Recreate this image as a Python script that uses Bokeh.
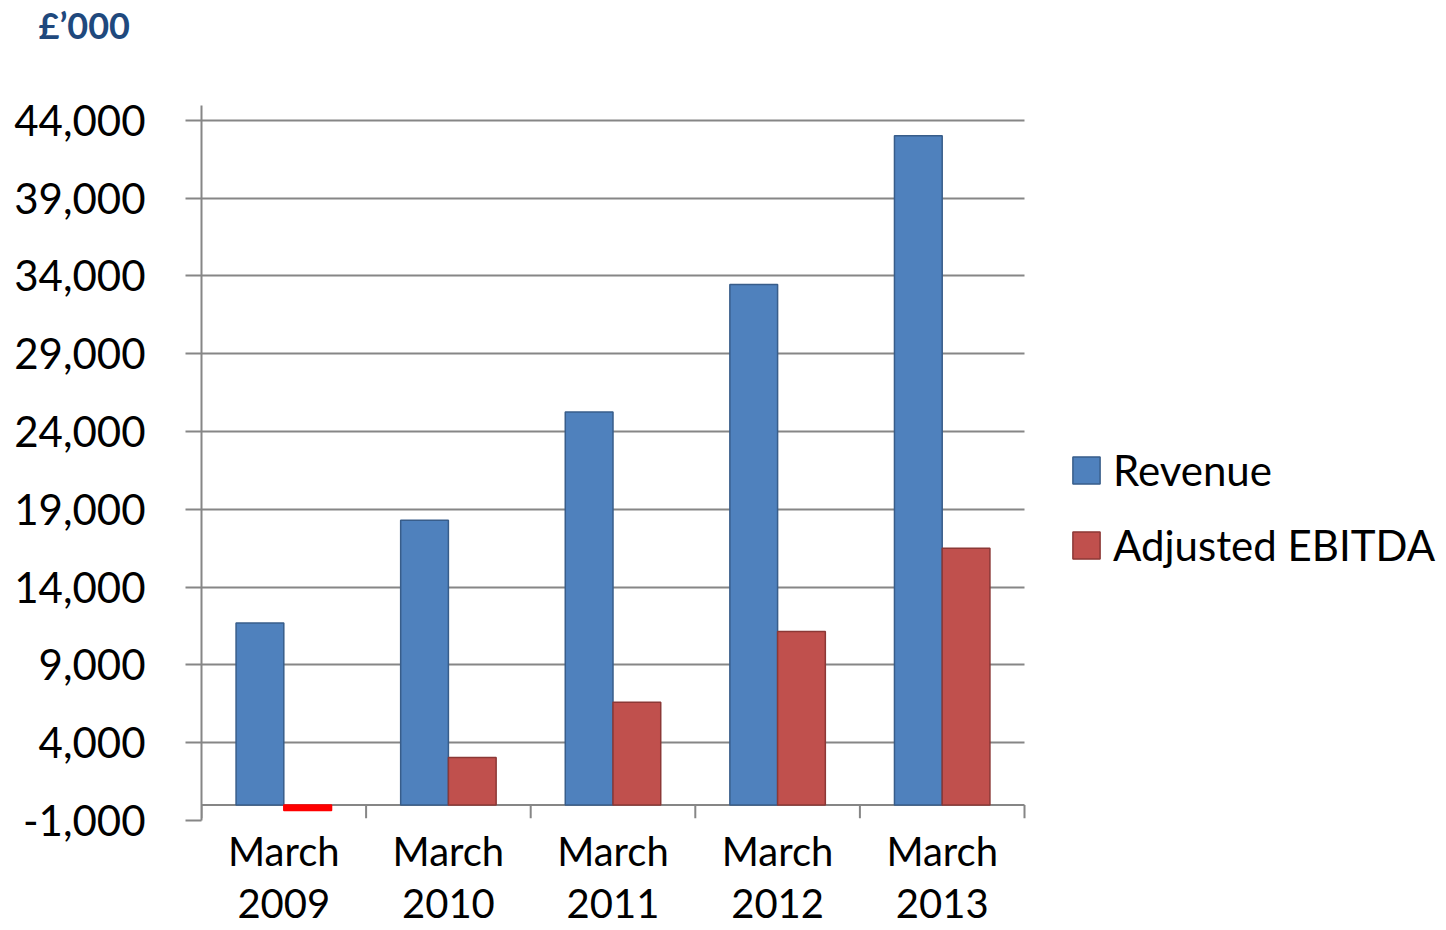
import numpy as np
from bokeh.plotting import figure
from bokeh.models import (ColumnDataSource, Range1d, FixedTicker,
                          NumeralTickFormatter, Legend, LegendItem, Title)
from bokeh.transform import dodge
from bokeh.embed import file_html
from bokeh.resources import INLINE

# Financial year ends (two-line category labels)
periods = ["March\n2009", "March\n2010", "March\n2011", "March\n2012", "March\n2013"]

# Values in £'000
revenue = [11700, 18300, 25250, 33450, 43000]
adjusted_ebitda = [-350, 3050, 6600, 11150, 16500]

# The negative year is highlighted in bright red
ebitda_fill = ["#FF0000", "#C0504D", "#C0504D", "#C0504D", "#C0504D"]
ebitda_line = ["#FF0000", "#8C3836", "#8C3836", "#8C3836", "#8C3836"]

y_ticks = [-1000, 4000, 9000, 14000, 19000, 24000, 29000, 34000, 39000, 44000]

FONT = "Lato"
GRID = "#868686"

n = len(periods)
centers = np.arange(n) + 0.5          # one unit per category
boundaries = np.arange(n + 1)         # category separators

source = ColumnDataSource(data=dict(
    pos=centers,
    revenue=revenue,
    ebitda=adjusted_ebitda,
    ebitda_fill=ebitda_fill,
    ebitda_line=ebitda_line,
))

# Plot area 201..1446 px; the categories use 201..1024 px, the rest holds the legend
x_end = n * (1446 - 201) / (1024 - 201)

p = figure(
    width=1446, height=930,
    x_range=Range1d(0, x_end),
    y_range=Range1d(-1000, 44950),
    output_backend="svg", toolbar_location=None,
    min_border_left=201, min_border_right=0,
    min_border_top=105, min_border_bottom=110,
)
p.title = None
p.outline_line_color = None
p.background_fill_color = "white"
p.border_fill_color = "white"

# Unit caption in the top-left corner (a blank title keeps it clear of the plot)
p.add_layout(Title(text=" ", text_font_size="1px", standoff=56), "above")
p.add_layout(Title(text="£’000", text_font=FONT, text_font_size="36px",
                   text_font_style="bold", text_color="#1F497D",
                   align="left", offset=-163, standoff=0), "above")

# Y axis
p.yaxis.ticker = FixedTicker(ticks=y_ticks)
p.yaxis.formatter = NumeralTickFormatter(format="0,0")
p.yaxis.major_label_text_font = FONT
p.yaxis.major_label_text_font_size = "42px"
p.yaxis.major_label_text_color = "black"
p.yaxis.axis_line_color = GRID
p.yaxis.axis_line_width = 2
p.yaxis.major_tick_line_color = GRID
p.yaxis.major_tick_line_width = 2
p.yaxis.major_tick_out = 16
p.yaxis.major_tick_in = 0
p.yaxis.minor_tick_line_color = None
p.yaxis.major_label_standoff = 40

# X axis: category labels only
p.xaxis.ticker = FixedTicker(ticks=list(centers), minor_ticks=[])
p.xaxis.major_label_overrides = {float(c): lab for c, lab in zip(centers, periods)}
p.xaxis.axis_line_color = None
p.xaxis.major_tick_line_color = None
p.xaxis.minor_tick_line_color = None
p.xaxis.major_tick_out = 0
p.xaxis.major_tick_in = 0
p.xaxis.major_label_text_font = FONT
p.xaxis.major_label_text_font_size = "40px"
p.xaxis.major_label_text_line_height = 1.1
p.xaxis.major_label_text_color = "black"
p.xaxis.major_label_standoff = 6

p.xgrid.grid_line_color = None
p.ygrid.ticker = FixedTicker(ticks=y_ticks)
p.ygrid.grid_line_color = GRID
p.ygrid.grid_line_width = 2
p.ygrid.cross_bounds = (0, n)

# Category axis line at zero with boundary tick marks
p.segment(x0=[0], y0=[0], x1=[n], y1=[0], line_color=GRID, line_width=2)
p.segment(x0=boundaries, y0=0, x1=boundaries, y1=-850, line_color=GRID, line_width=2)

bar_w = 0.29
r_rev = p.vbar(x=dodge("pos", -bar_w / 2), top="revenue",
               width=bar_w, source=source,
               fill_color="#4F81BD", line_color="#385D8A", line_width=1.5)
r_ebit = p.vbar(x=dodge("pos", bar_w / 2), top="ebitda",
                width=bar_w, source=source,
                fill_color="ebitda_fill", line_color="ebitda_line", line_width=1.5)

legend = Legend(
    items=[LegendItem(label="Revenue", renderers=[r_rev]),
           LegendItem(label="Adjusted EBITDA", renderers=[r_ebit], index=1)],
    location=(868, 250),
    label_text_font=FONT, label_text_font_size="42px", label_text_color="black",
    glyph_width=34, glyph_height=34, label_height=50, label_standoff=10,
    spacing=25, padding=0, margin=0,
    border_line_color=None, background_fill_alpha=0,
)
p.add_layout(legend)

open("out.html", "w").write(file_html(p, INLINE))
